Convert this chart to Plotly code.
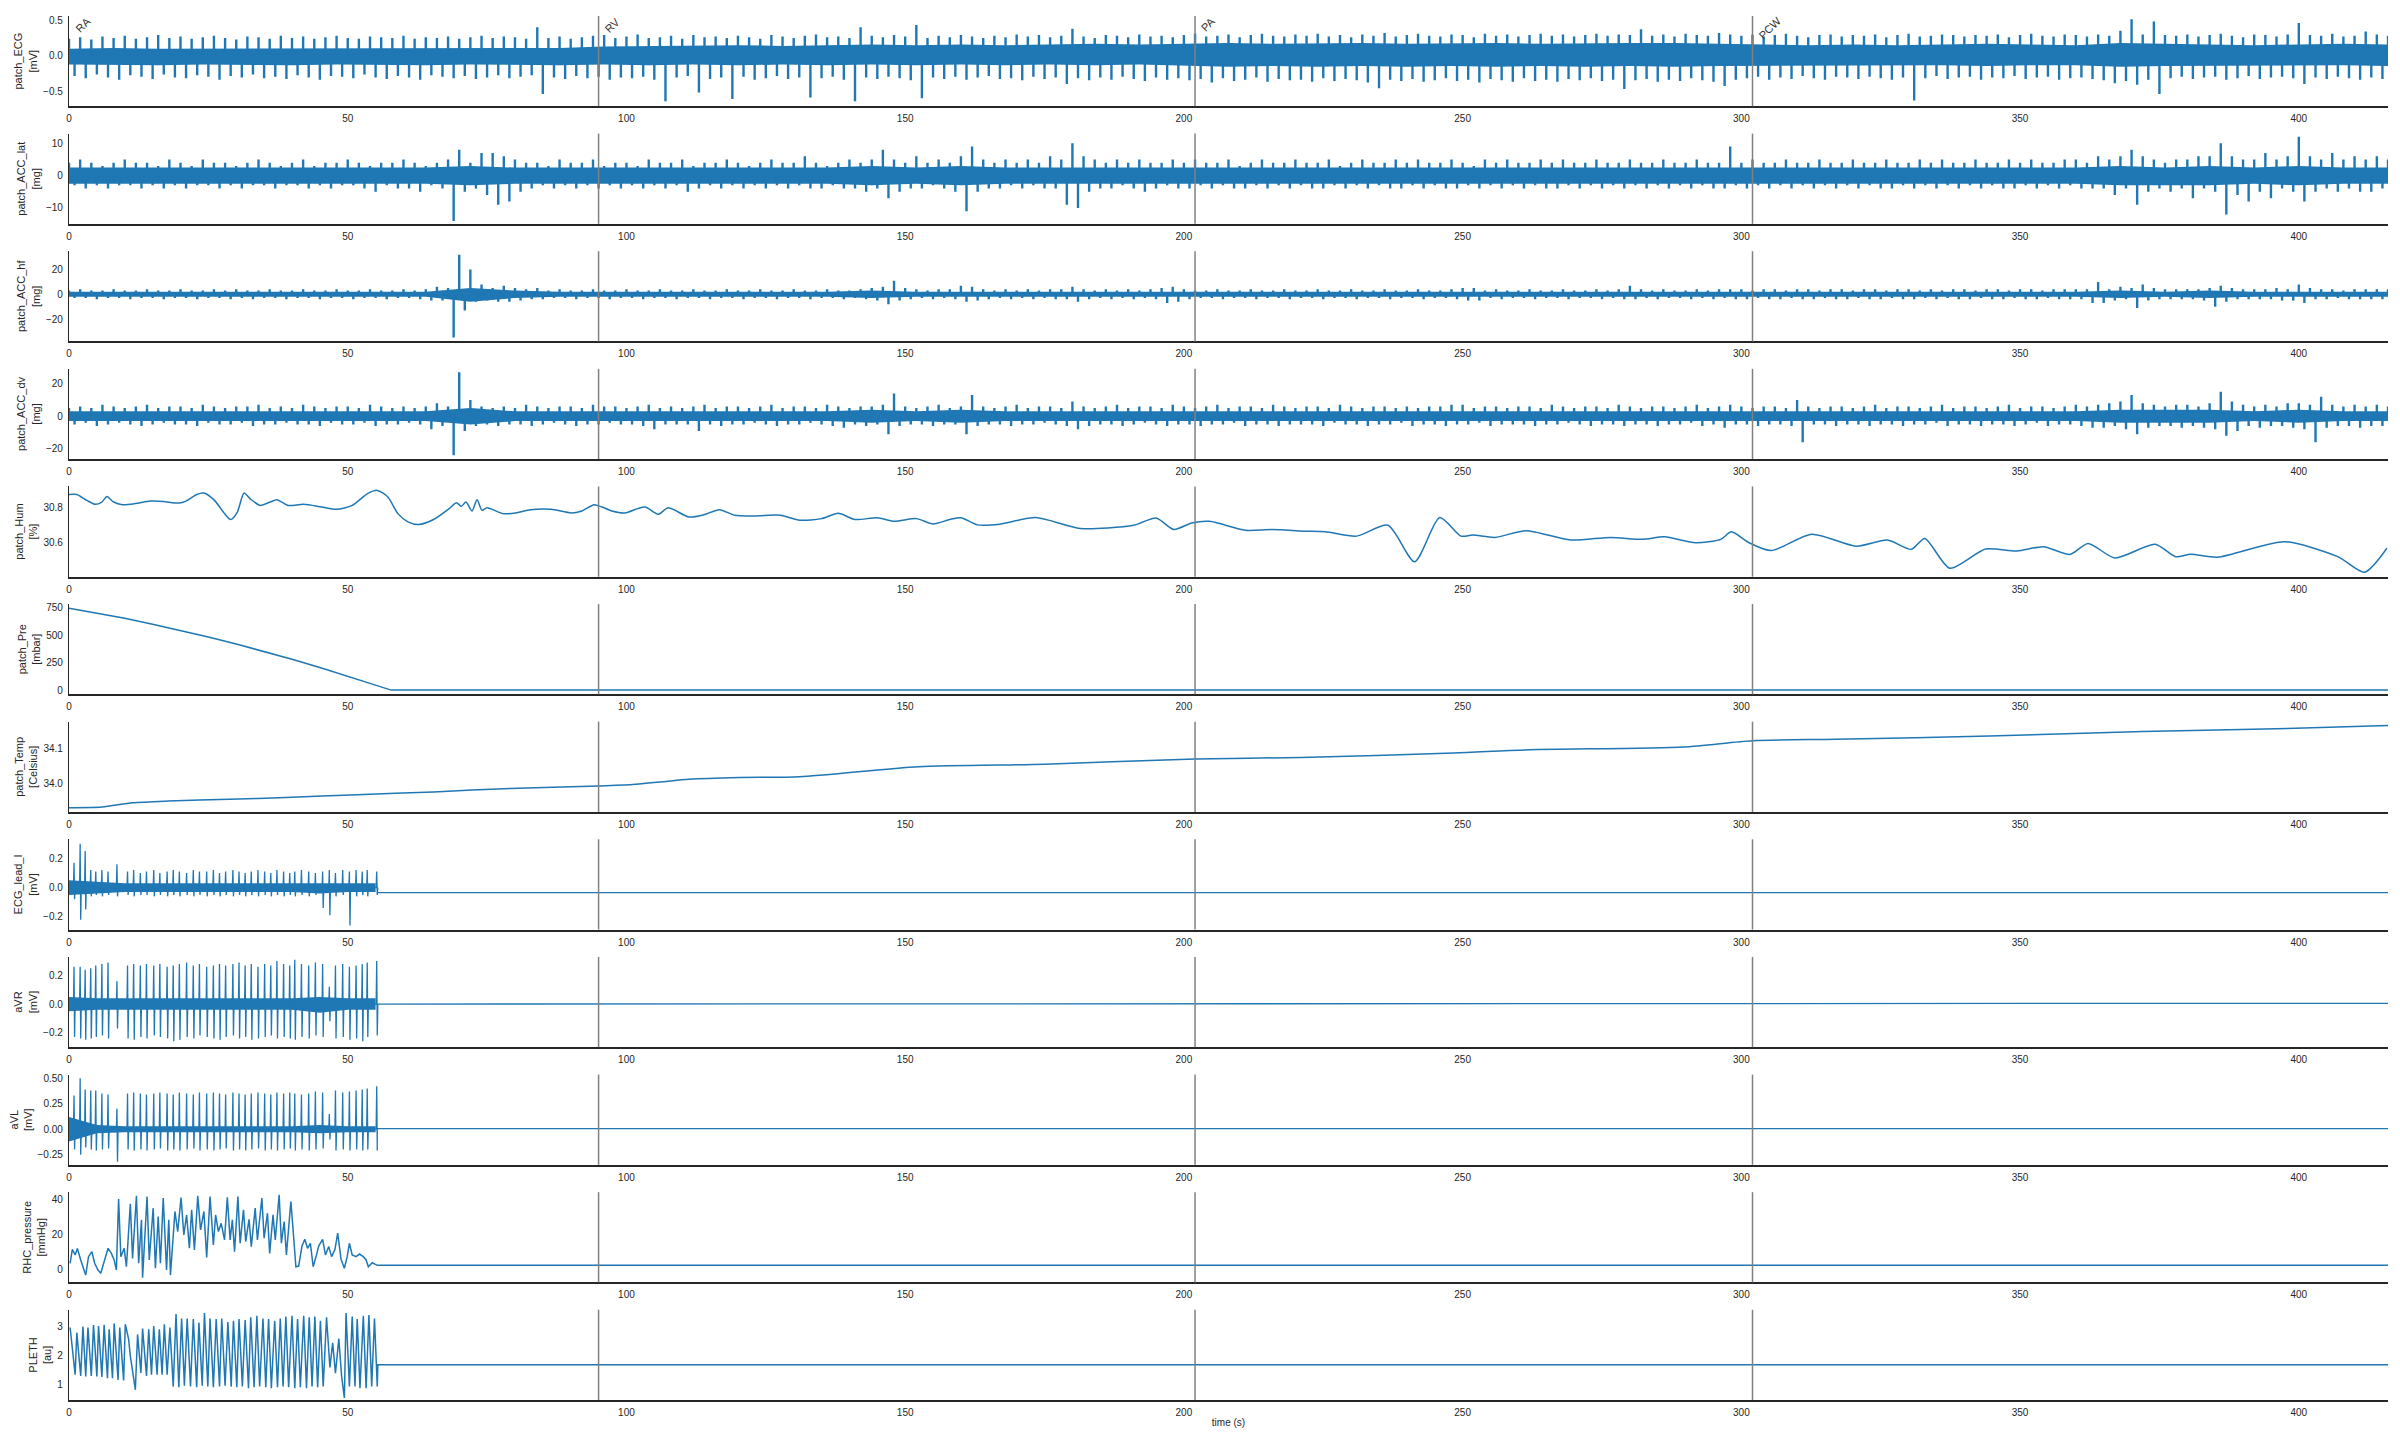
import numpy as np
import plotly.graph_objects as go
from plotly.subplots import make_subplots

# ---------------- time grids ----------------
T_HI = np.arange(0, 417, 2)      # envelope maxima read every 2 s (even seconds)
T_LO = np.arange(1, 416, 2)      # envelope minima read every 2 s (odd seconds)
T_CORE = np.arange(0, 417, 8)    # dense core band read every 8 s
T_SHORT = np.arange(0, 56, 5)    # core band of the catheter-lab channels (0-55 s)
X_MAX = 416
T_STOP = 55.3                    # catheter-lab channels stop here

EVENT_T = [0, 95, 202, 302]
EVENT_LABEL = ["RA", "RV", "PA", "PCW"]

# ---------------- patch_ECG (x0.01 mV) ----------------
ECG_HI = [24,26,23,27,25,28,24,26,29,25, 27,24,26,28,25,23,27,26,24,28,
          25,27,24,26,28,25,24,27,26,25, 28,24,26,25,27,24,26,28,25,27,
          26,24,40,25,27,24,26,28,29,25, 27,30,25,26,28,24,29,26,27,25,
          28,26,24,29,27,25,28,30,26,27, 25,40,28,26,29,27,43,25,28,26,
          29,27,25,28,26,30,27,29,26,28, 38,27,25,29,28,26,30,27,28,26,
          29,31,27,28,30,26,29,31,28,27, 30,28,31,27,29,26,30,28,32,27,
          29,31,28,27,30,29,26,31,28,30, 27,29,31,28,30,27,29,31,28,30,
          29,37,28,30,27,31,29,28,32,30, 28,30,27,29,31,28,26,29,30,27,
          29,28,30,26,29,31,27,28,30,29, 27,29,28,30,26,29,31,28,27,30,
          29,27,30,28,35,51,30,48,29,28, 30,27,29,31,28,26,30,29,27,30,
          46,29,28,31,27,28,34,30,28]
ECG_LO = [-28,-31,-26,-30,-33,-27,-29,-32,-26,-30, -31,-27,-29,-33,-28,-30,-26,-31,-29,-32,
          -27,-30,-33,-28,-29,-31,-26,-30,-32,-28, -30,-33,-27,-29,-31,-28,-32,-30,-27,-31,
          -29,-27,-53,-30,-32,-28,-31,-29,-33,-30, -31,-29,-33,-63,-30,-28,-51,-32,-30,-60,
          -29,-33,-31,-28,-32,-30,-58,-31,-29,-33, -63,-30,-32,-29,-31,-34,-59,-30,-32,-29,
          -33,-30,-28,-32,-31,-34,-29,-32,-30,-39, -31,-34,-30,-33,-29,-32,-35,-30,-33,-31,
          -34,-32,-37,-31,-35,-33,-30,-36,-32,-34, -33,-36,-31,-35,-32,-34,-37,-45,-33,-35,
          -32,-36,-34,-31,-35,-33,-37,-32,-34,-36, -31,-35,-33,-36,-32,-34,-31,-35,-33,-46,
          -34,-32,-36,-33,-35,-31,-34,-36,-42,-33, -31,-29,-33,-30,-32,-28,-31,-33,-29,-30,
          -32,-29,-31,-33,-30,-62,-31,-28,-32,-30, -29,-33,-30,-31,-28,-32,-30,-29,-33,-31,
          -30,-32,-34,-38,-35,-40,-33,-53,-31,-29, -32,-30,-29,-33,-31,-28,-32,-30,-29,-31,
          -39,-30,-32,-29,-31,-33,-30,-32]
ECG_CORE_HI = [10,11,10,10,11,10,10,11,10,11,10,11,
               13,14,14,15,14,15,16,15,16,15,16,17,16,
               17,18,17,18,18,17,18,18,17,18,18,18,17,
               16,15,16,15,16,17,16,15,18,17,16,15,16,17,16]
ECG_CORE_LO = [-12,-12,-13,-12,-12,-13,-12,-12,-13,-12,-12,-13,
               -12,-13,-12,-13,-12,-13,-12,-13,-12,-13,-12,-13,-12,
               -14,-15,-14,-15,-14,-15,-14,-15,-14,-15,-14,-15,-14,
               -13,-13,-14,-13,-13,-14,-13,-13,-15,-14,-13,-14,-13,-13,-14]

# ---------------- patch_ACC_lat (mg) ----------------
LAT_HI = [4,5,4,3,4,5,4,4,3,5, 4,3,5,4,4,3,4,5,4,3, 4,5,3,4,4,5,4,3,4,4, 5,4,3,4,5,8,4,7,7,6,
          5,4,4,3,5,4,4,5,3,4, 4,3,5,4,4,5,3,4,4,5, 4,3,4,5,4,4,6,4,3,4, 5,4,5,8,5,4,6,4,5,4,
          6,9,5,4,5,4,5,4,6,5, 10,6,5,4,5,4,5,4,4,5, 4,5,4,4,5,3,4,5,4,4, 5,4,4,5,3,4,5,4,4,5,
          4,5,4,4,5,4,3,5,4,5, 4,4,5,4,5,4,4,5,4,4, 5,4,4,5,4,4,5,4,4,9, 4,5,4,4,5,4,4,5,4,4,
          5,4,4,5,4,4,5,4,5,4, 4,5,4,4,5,4,5,4,4,5, 5,4,6,5,6,8,6,5,4,5, 5,6,6,10,6,5,5,7,5,6,
          12,6,5,7,5,6,5,6,5]
LAT_LO = [-3,-4,-3,-4,-3,-3,-4,-3,-4,-3, -4,-3,-3,-4,-3,-4,-3,-3,-4,-3, -3,-4,-3,-4,-3,-3,-4,-5,-3,-4,
          -4,-5,-3,-4,-14,-5,-4,-6,-9,-8, -5,-4,-3,-4,-3,-4,-3,-4,-3,-4, -3,-4,-3,-4,-3,-5,-4,-3,-4,-3,
          -4,-3,-4,-3,-4,-3,-4,-4,-3,-4, -4,-5,-4,-7,-5,-4,-4,-3,-4,-5, -11,-5,-4,-4,-3,-4,-3,-4,-4,-9,
          -10,-5,-4,-4,-3,-4,-5,-4,-3,-4, -4,-3,-4,-3,-4,-4,-3,-4,-3,-4, -3,-4,-4,-3,-4,-3,-4,-3,-4,-4,
          -3,-4,-3,-4,-4,-3,-4,-3,-4,-3, -4,-3,-4,-4,-3,-4,-3,-4,-3,-4, -3,-4,-3,-4,-3,-4,-3,-4,-4,-3,
          -4,-3,-4,-3,-4,-3,-4,-3,-4,-3, -4,-3,-4,-4,-3,-4,-3,-4,-3,-4, -3,-4,-3,-4,-4,-3,-4,-3,-4,-3,
          -4,-4,-4,-6,-4,-9,-5,-4,-5,-4, -7,-4,-5,-12,-6,-8,-5,-7,-4,-5, -8,-5,-4,-5,-4,-5,-5,-4]
LAT_CORE_HI = [2.5,2.5,2.5,2.5,2.5,2.5,2.5,2.5,2.5,3,2.5,2.5,2.5,2.5,2.5,2.5,2.5,2.5,3,2.5,3,2.5,2.5,2.5,2.5,2.5,2.5,
               2.5,2.5,2.5,2.5,2.5,2.5,2.5,2.5,2.5,2.5,2.5,2.5,2.5,2.5,2.5,2.5,2.5,2.5,2.5,3,2.5,3,2.5,3,2.5,2.5]
LAT_CORE_LO = [-2.5,-2.5,-2.5,-2.5,-2.5,-2.5,-2.5,-2.5,-2.5,-3,-2.5,-2.5,-2.5,-2.5,-2.5,-2.5,-2.5,-2.5,-3,-2.5,-3,-2.5,-2.5,-2.5,-2.5,-2.5,-2.5,
               -2.5,-2.5,-2.5,-2.5,-2.5,-2.5,-2.5,-2.5,-2.5,-2.5,-2.5,-2.5,-2.5,-2.5,-2.5,-2.5,-2.5,-2.5,-2.5,-3,-3,-3,-2.5,-3,-2.5,-2.5]

# ---------------- patch_ACC_hf (mg) ----------------
HF_HI = [3,4,3,3,4,3,3,4,3,3, 4,3,3,4,3,4,3,3,4,3, 3,4,3,3,4,3,3,4,3,3, 4,3,4,6,5,32,20,8,5,7,
         5,4,5,3,4,3,3,4,3,3, 4,3,3,4,3,3,4,3,3,4, 3,3,4,3,3,4,3,3,4,3, 3,4,5,6,11,5,4,3,4,4,
         7,6,4,3,4,3,4,3,4,4, 6,4,3,4,3,4,3,4,5,6, 4,3,3,4,3,3,4,3,3,4, 3,3,4,3,3,4,3,3,4,3,
         3,4,3,3,4,5,5,3,4,3, 3,4,3,3,4,3,3,4,3,4, 7,4,3,4,3,3,4,3,4,4, 4,3,4,4,3,4,4,3,4,4,
         3,4,4,3,4,4,3,4,3,4, 4,3,4,4,3,4,4,3,4,4, 4,4,10,4,6,5,8,5,4,4, 4,4,5,7,5,4,4,4,5,4,
         8,5,4,4,3,4,4,4,4]
HF_LO = [-3,-3,-4,-3,-3,-4,-3,-3,-4,-3, -3,-4,-3,-3,-4,-3,-4,-3,-3,-4, -3,-3,-4,-3,-3,-4,-3,-3,-4,-3,
         -3,-4,-5,-5,-35,-13,-6,-5,-6,-6, -5,-4,-4,-3,-3,-4,-3,-3,-4,-3, -3,-4,-3,-3,-4,-3,-3,-4,-3,-3,
         -4,-3,-3,-4,-3,-3,-4,-3,-3,-4, -3,-4,-5,-8,-5,-4,-3,-4,-3,-4, -6,-5,-4,-3,-4,-3,-4,-3,-4,-4,
         -6,-4,-3,-4,-3,-4,-3,-4,-7,-6, -4,-3,-3,-4,-3,-3,-4,-3,-3,-4, -3,-3,-4,-3,-3,-4,-3,-3,-4,-3,
         -3,-4,-3,-3,-4,-5,-5,-3,-4,-3, -3,-4,-3,-3,-4,-3,-3,-4,-3,-4, -4,-3,-4,-3,-3,-4,-3,-4,-3,-4,
         -4,-3,-4,-4,-3,-4,-4,-3,-4,-4, -3,-4,-4,-3,-4,-4,-3,-4,-3,-4, -4,-3,-4,-4,-3,-4,-4,-3,-4,-4,
         -4,-7,-7,-5,-4,-11,-5,-4,-4,-4, -4,-5,-10,-6,-4,-4,-4,-4,-5,-5, -7,-4,-4,-3,-4,-4,-4,-4]
HF_CORE_HI = [2,2,2,2,2,2,2,2,2,5,3,2,2,2,2,2,2,2,3,2,2,2,2,2,2,2,2,
              2,2,2,2,2,2,2,2,2,2,2,2,2,2,2,2,2,2,2,3,2,3,2,2,2,2]
HF_CORE_LO = [-2,-2,-2,-2,-2,-2,-2,-2,-2,-6,-3,-2,-2,-2,-2,-2,-2,-2,-3,-2,-2,-2,-2,-2,-2,-2,-2,
              -2,-2,-2,-2,-2,-2,-2,-2,-2,-2,-2,-2,-2,-2,-2,-2,-2,-2,-2,-3,-2,-3,-2,-2,-2,-2]

# ---------------- patch_ACC_dv (mg) ----------------
DV_HI = [5,6,5,7,6,5,6,7,5,6, 6,5,7,6,5,6,6,7,5,6, 5,7,6,5,6,6,5,7,6,5, 6,5,6,8,6,27,10,6,5,6,
         5,7,6,5,6,6,5,7,6,6, 5,6,7,5,6,5,6,7,5,6, 6,5,6,7,5,6,6,5,7,6, 5,6,6,7,14,6,5,6,7,5,
         6,13,6,5,6,7,5,6,6,5, 9,6,5,6,7,5,6,6,5,7, 6,5,6,7,5,6,6,5,7,6, 5,6,6,5,7,6,5,6,6,5,
         6,5,6,6,7,7,5,6,6,5, 6,6,5,7,6,5,6,6,5,7, 6,5,6,6,5,6,7,5,6,7, 6,5,6,6,5,10,6,5,6,6,
         5,6,7,5,6,6,5,6,7,5, 6,6,5,6,7,5,6,6,5,6, 7,6,7,8,9,13,8,7,6,7, 7,6,8,15,9,7,6,7,6,8,
         8,7,12,7,6,7,6,7,6]
DV_LO = [-5,-4,-6,-5,-4,-5,-6,-5,-4,-5, -5,-6,-4,-5,-5,-4,-6,-5,-5,-4, -5,-5,-6,-4,-5,-5,-4,-6,-5,-5,
         -4,-5,-8,-6,-24,-9,-6,-5,-6,-5, -5,-6,-5,-4,-5,-6,-5,-5,-4,-5, -5,-6,-8,-5,-5,-5,-9,-5,-6,-5,
         -5,-4,-5,-6,-5,-5,-4,-5,-6,-7, -5,-6,-5,-11,-6,-5,-5,-6,-5,-5, -11,-6,-5,-5,-6,-5,-5,-4,-5,-6,
         -8,-6,-5,-5,-6,-5,-4,-5,-6,-5, -5,-6,-5,-5,-4,-6,-5,-5,-6,-5, -5,-5,-6,-4,-5,-5,-6,-5,-5,-4,
         -6,-5,-5,-6,-5,-5,-4,-6,-5,-5, -5,-6,-5,-5,-4,-5,-6,-5,-5,-6, -5,-5,-6,-5,-5,-4,-6,-5,-7,-5,
         -5,-6,-5,-5,-6,-16,-5,-5,-6,-5, -5,-6,-5,-5,-6,-5,-5,-4,-6,-5, -5,-6,-5,-5,-6,-5,-4,-6,-5,-5,
         -6,-7,-7,-6,-8,-11,-7,-6,-6,-7, -6,-7,-8,-12,-9,-6,-7,-6,-6,-7, -8,-16,-7,-6,-6,-7,-6,-6]
DV_CORE_HI = [3,3,3,3,3,3,3,3,3,5,3,3,3,3,3,3,3,3,4,3,4,3,3,3,3,3,3,
              3,3,3,3,3,3,3,3,3,3,3,3,3,3,3,3,3,3,3,4,4,4,3,4,3,3]
DV_CORE_LO = [-3,-3,-3,-3,-3,-3,-3,-3,-3,-5,-3,-3,-3,-3,-3,-3,-3,-3,-4,-3,-4,-3,-3,-3,-3,-3,-3,
              -3,-3,-3,-3,-3,-3,-3,-3,-3,-3,-3,-3,-3,-3,-3,-3,-3,-3,-3,-4,-4,-4,-3,-4,-3,-3]

# ---------------- patch_Hum (%) ----------------
HUM_T = [0,1.4,3.2,4.7,5.9,6.8,8.0,9.6,11.9,14.6, 16.9,19.7,21.0,22.9,24.2,26.1,27.9,29.0,30.2,31.4,
         32.5,34.3,36.1,37.3,39.3,42.1,45.3,48.0,50.8,53.5, 55.3,57.2,59.0,60.8,62.7,65.4,68.2,69.5,70.4,71.2,
         72.3,73.2,74.1,75.0,77.8,80.1,82.8,86.5,90.1,92.0, 94.2,95.6,97.4,99.7,102.0,103.4,105.7,107.5,111.2,113.9,
         116.7,119.4,123.1,127.6,131.1, 135,138,141,145,148,152,155,158,160,163,
         167.0,173.4,181.4,191.0,195.0,198.2,201.4,204.6,211.0,215.8, 221.4,225.4,231.0,236.6,241.4,245.9,249.7,251.8,255.8,261.4,
         269.4,276.6,282.2,286.2,291.8,296.3,298.2,301.4,305.4,312.6, 320.6,326.2,330.5,332.9,337.4,343.8,349.4,354.2,359.0,362.2,
         367.0,374.2,377.9,380.6,385.4,397.4,407.0,411.8,415.8]
HUM_V = [30.870,30.870,30.837,30.815,30.828,30.859,30.828,30.813,30.819,30.833, 30.831,30.822,30.833,30.870,30.878,30.837,30.763,30.730,30.772,30.878,
         30.846,30.809,30.828,30.841,30.809,30.815,30.800,30.787,30.809,30.874, 30.893,30.856,30.763,30.717,30.702,30.730,30.791,30.824,30.804,30.828,
         30.778,30.841,30.781,30.796,30.763,30.767,30.785,30.787,30.767,30.778, 30.813,30.800,30.778,30.767,30.791,30.800,30.759,30.796,30.744,30.757,
         30.785,30.754,30.750,30.754,30.726, 30.735,30.765,30.730,30.740,30.720,30.735,30.705,30.730,30.740,30.700,
         30.704,30.741,30.680,30.698,30.739,30.674,30.711,30.720,30.670,30.674, 30.665,30.661,30.637,30.698,30.494,30.741,30.637,30.643,30.630,30.667,
         30.615,30.630,30.619,30.633,30.600,30.619,30.661,30.600,30.556,30.648, 30.581,30.615,30.563,30.624,30.457,30.565,30.554,30.578,30.535,30.596,
         30.515,30.591,30.522,30.535,30.519,30.606,30.522,30.435,30.569]

# ---------------- patch_Pre (mbar) ----------------
PRE_T = [0, 5, 10, 15, 20, 25, 30, 35, 40, 45, 50, 55, 57.8, 416]
PRE_V = [748, 704, 655, 602, 545, 485, 421, 354, 283, 208, 129, 47, 1, 1]

# ---------------- patch_Temp (Celsius) ----------------
TEMP_T = [0,5.9,11.4,17.8,28.8,38.9,51.7,65.4,79.1,95,101.1,106.6,111.2,120.3,131.1,
          152.4,175,202,221,248.4,262,289.6,302,317,344.5,372,399.4,416]
TEMP_V = [33.931,33.933,33.945,33.950,33.955,33.960,33.968,33.976,33.986,33.993,33.997,34.005,34.012,34.017,34.019,
          34.048,34.055,34.070,34.074,34.087,34.096,34.104,34.122,34.126,34.135,34.148,34.157,34.165]

# ---------------- catheter-lab ECG leads (x0.01 mV) ----------------
BEAT_T = [0.9,2.0,2.9,3.9,4.8,5.9,7.0,8.6,10.5,11.6, 12.8,13.9,15.2,16.3,17.6,18.7,19.8,21.1,22.3,23.4,
          24.7,25.9,27.0,28.1,29.4,30.5,31.6,32.7,33.9,35.1, 36.2,37.3,38.5,39.6,40.5,41.7,43.0,44.2,45.5,46.7,
          47.8,49.1,50.3,51.5,52.6,53.5,55.2]
LEADI_UP = [17,30,25,12,11,12,11,16,11,12, 10,11,12,10,11,12,11,10,12,11, 11,12,10,11,12,11,10,11,12,11,
            10,12,11,10,11,12,11,10,11,12, 10,12,11,12,11,12,11]
LEADI_DN = [-8,-22,-15,-6,-5,-6,-5,-6,-5,-6, -5,-5,-6,-5,-6,-5,-6,-5,-6,-5, -6,-5,-6,-5,-6,-5,-6,-5,-6,-5,
            -6,-5,-6,-5,-6,-5,-6,-5,-14,-19, -6,-5,-26,-6,-5,-6,-5]
AVR_UP = [26,26,24,25,27,28,29,16,27,28, 27,28,27,28,26,27,28,29,27,28, 26,27,28,27,28,29,27,28,26,28,
          27,30,28,27,31,28,27,29,28,12, 27,28,26,27,28,29,30]
AVR_DN = [-23,-24,-25,-24,-23,-22,-24,-17,-24,-25, -23,-24,-22,-23,-24,-26,-25,-23,-24,-22, -23,-24,-25,-23,-22,-24,-23,-25,-24,-23,
          -22,-24,-23,-24,-25,-23,-24,-22,-23,-12, -24,-23,-25,-24,-26,-23,-22]
AVL_UP = [33,50,39,38,38,35,34,20,35,36, 35,34,35,36,35,34,36,35,34,36, 35,36,35,34,36,35,34,35,36,35,
          34,36,35,36,35,34,35,37,36,15, 38,36,37,38,39,40,42]
AVL_DN = [-20,-25,-18,-20,-21,-20,-19,-32,-20,-21, -20,-21,-20,-19,-21,-20,-21,-20,-19,-21, -20,-21,-20,-19,-21,-20,-21,-20,-19,-21,
          -20,-21,-20,-19,-21,-20,-21,-20,-19,-10, -21,-20,-21,-20,-21,-20,-21]
LEADI_CORE_HI = [5,4,3,3,3,3,3,3,3,3,3,3]
LEADI_CORE_LO = [-5,-4,-3,-3,-3,-3,-3,-3,-3,-4,-3,-3]
AVR_CORE_HI = [5,4,4,4,4,4,4,4,4,5,4,4]
AVR_CORE_LO = [-5,-4,-4,-4,-4,-4,-4,-4,-4,-6,-4,-4]
AVL_CORE_HI = [12,4,3,3,3,3,3,3,3,4,3,3]
AVL_CORE_LO = [-12,-4,-3,-3,-3,-3,-3,-3,-3,-4,-3,-3]
FLAT_LEADI, FLAT_AVR, FLAT_AVL = -3.4, 0.5, 0.5

# ---------------- RHC_pressure (mmHg) ----------------
RHC_T = [0.2,0.6,1.1,1.5,2.1,2.5,3.0,3.5,4.1,4.6, 5.2,5.7,6.4,7.0,7.6,8.1,8.5,8.9,9.3,9.9,
         10.3,11.0,11.4,12.1,12.5,13.0,13.2,14.0,14.4,15.1, 15.5,16.0,16.4,16.9,17.5,17.9,18.2,19.0,19.5,20.1,
         20.6,21.1,21.6,22.0,22.5,23.1,23.6,24.2,24.7,25.3, 25.9,26.3,26.8,27.3,27.9,28.4,28.9,29.3,29.7,30.3,
         30.7,31.3,31.7,32.3,32.7,33.4,33.8,34.6,35.0,35.6, 36.0,36.6,37.0,37.7,38.1,38.6,39.0,39.8,40.2,40.7,
         41.2,41.8,42.3,42.8,43.3,43.8,44.4,44.8,45.5,46.0, 46.6,47.1,47.7,48.2,48.8,49.4,49.9,50.3,50.8,51.5,
         52.1,52.8,53.3,53.7,54.4,55.2,55.3,416]
RHC_V = [3.5,11.5,8.3,12.0,5.4,1.5,-3.3,7.3,10.2,3.5, -0.4,-2.3,6.3,12.1,9.2,5.4,-0.4,40.4,7.3,12.1,
         1.5,37.7,6.3,42.3,3.5,28.5,-4.8,41.9,5.4,35.2, 0.6,30.4,3.5,41.0,-0.4,28.5,-3.3,33.3,21.7,41.3,
         19.8,31.3,12.1,34.2,11.2,42.3,22.7,33.3,6.9,41.9, 14.0,31.3,21.7,26.5,16.9,41.5,16.9,28.5,10.2,41.9,
         15.0,34.2,16.0,28.8,13.1,35.2,16.9,41.0,17.9,32.3, 9.2,31.3,16.9,42.9,15.0,27.5,8.3,39.0,22.7,1.5,
         1.9,13.5,17.3,12.1,15.0,1.5,8.3,13.5,17.3,8.3, 13.1,7.3,11.2,20.8,5.8,0.6,7.3,15.0,8.3,7.3,
         8.8,7.3,5.4,1.5,3.8,2.5,2.3,2.3]

# ---------------- PLETH (au) ----------------
PL_T = [0.2,1.1,1.4,2.1,2.5,3.0,3.4,4.0,4.4,5.0, 5.3,5.9,6.3,6.9,7.2,7.8,8.1,8.8,9.1,9.8,
        10.1,10.7,11.0,11.9,12.3,12.9,13.2,13.9,14.3,14.8, 15.2,15.8,16.2,16.7,17.1,17.6,18.1,18.7,19.2,19.7,
        20.2,20.7,21.2,21.8,22.3,22.9,23.3,23.9,24.3,24.9, 25.3,25.9,26.4,27.0,27.4,28.0,28.5,29.1,29.5,30.1,
        30.5,31.1,31.6,32.2,32.6,33.2,33.7,34.2,34.8,35.3, 35.8,36.3,36.9,37.4,37.9,38.4,38.9,39.4,40.0,40.5,
        41.0,41.5,42.1,42.6,43.1,43.6,44.1,44.6,45.1,45.6, 46.2,46.8,47.3,47.8,48.4,48.9,49.4,49.7,50.3,50.8,
        51.3,51.7,52.2,52.8,53.3,53.8,54.3,54.8,55.3,55.4, 416]
PL_V = [2.98,1.35,2.80,1.31,3.01,1.29,2.98,1.31,3.06,1.29, 3.03,1.27,3.07,1.23,2.92,1.23,3.12,1.17,2.98,1.15,
        3.09,2.57,2.00,0.83,2.74,1.41,2.94,1.31,2.92,1.35, 3.03,1.35,2.92,1.35,3.09,1.35,2.98,0.94,3.44,0.92,
        3.29,0.97,3.29,0.94,3.27,0.92,3.15,0.97,3.48,0.94, 3.29,0.92,3.27,0.94,3.29,0.97,3.17,0.94,3.21,0.92,
        3.27,0.94,3.24,0.88,3.33,0.92,3.38,0.94,3.29,0.92, 3.27,0.88,3.21,0.92,3.29,0.94,3.36,0.92,3.38,0.88,
        3.27,0.92,3.38,0.88,3.33,0.94,3.36,0.92,3.21,0.94, 3.33,1.60,2.45,1.40,2.60,1.30,0.55,3.48,0.94,3.36,
        0.94,3.27,0.88,3.38,0.88,3.41,0.94,3.29,0.94,1.69, 1.69]

# ---------------- panel settings ----------------
TITLES = ["patch_ECG<br>[mV]", "patch_ACC_lat<br>[mg]", "patch_ACC_hf<br>[mg]", "patch_ACC_dv<br>[mg]",
          "patch_Hum<br>[%]", "patch_Pre<br>[mbar]", "patch_Temp<br>[Celsius]", "ECG_lead_I<br>[mV]",
          "aVR<br>[mV]", "aVL<br>[mV]", "RHC_pressure<br>[mmHg]", "PLETH<br>[au]"]
Y_RANGES = [[-0.70, 0.556], [-14.9, 13.0], [-38.1, 34.8], [-26.3, 29.1], [30.41, 30.915], [-37, 785],
            [33.919, 34.176], [-0.287, 0.330], [-0.301, 0.329], [-0.349, 0.536], [-7.5, 44.4], [0.477, 3.59]]
Y_TICKS = [[-0.5, 0.0, 0.5], [-10, 0, 10], [-20, 0, 20], [-20, 0, 20], [30.6, 30.8], [0, 250, 500, 750],
           [34.0, 34.1], [-0.2, 0.0, 0.2], [-0.2, 0.0, 0.2], [-0.25, 0.0, 0.25, 0.5], [0, 20, 40], [1, 2, 3]]
Y_TICKTEXT = [["−0.5", "0.0", "0.5"], ["−10", "0", "10"], ["−20", "0", "20"], ["−20", "0", "20"],
              ["30.6", "30.8"], ["0", "250", "500", "750"], ["34.0", "34.1"], ["−0.2", "0.0", "0.2"],
              ["−0.2", "0.0", "0.2"], ["−0.25", "0.00", "0.25", "0.50"], ["0", "20", "40"], ["1", "2", "3"]]
X_TICKS = [0, 50, 100, 150, 200, 250, 300, 350, 400]

BLUE = "#1f77b4"
DARK = "#262626"
FONT = "Liberation Sans, Arial, sans-serif"

fig = make_subplots(rows=12, cols=1, vertical_spacing=0.0198)


def add_line(row, x, y, width=1.5, shape="linear"):
    fig.add_trace(go.Scatter(x=list(x), y=list(y), mode="lines",
                             line=dict(color=BLUE, width=width, shape=shape, smoothing=0.7 if shape == "spline" else None),
                             hoverinfo="skip", showlegend=False), row=row, col=1)


def add_band(row, t, hi, lo, scale):
    hi = np.asarray(hi, float) * scale
    lo = np.asarray(lo, float) * scale
    t = np.asarray(t, float)
    fig.add_trace(go.Scatter(x=np.concatenate([t, t[::-1]]), y=np.concatenate([hi, lo[::-1]]),
                             mode="lines", fill="toself", fillcolor=BLUE, line=dict(width=0, color=BLUE),
                             hoverinfo="skip", showlegend=False), row=row, col=1)


def add_dense(row, hi, lo, core_hi, core_lo, scale):
    """Solid core band plus one vertical spike per envelope reading."""
    assert len(hi) == len(T_HI) and len(lo) == len(T_LO), (row, len(hi), len(lo))
    assert len(core_hi) == len(T_CORE) and len(core_lo) == len(T_CORE), (row, len(core_hi), len(core_lo))
    add_band(row, T_CORE, core_hi, core_lo, scale)
    t_all = np.concatenate([T_HI, T_LO])
    v_all = np.concatenate([np.asarray(hi, float), np.asarray(lo, float)]) * scale
    order = np.argsort(t_all, kind="stable")
    xs, ys = [], []
    for t, v in zip(t_all[order], v_all[order]):
        xs += [t, t, t]
        ys += [0.0, v, 0.0]
    add_line(row, xs, ys, width=2.4)


def add_beats(row, up, dn, core_hi, core_lo, flat, scale):
    assert len(up) == len(BEAT_T) and len(dn) == len(BEAT_T), (row, len(up), len(dn))
    add_band(row, T_SHORT, core_hi, core_lo, scale)
    xs, ys = [0.0], [0.0]
    for t, u, d in zip(BEAT_T, up, dn):
        xs += [t - 0.1, t, t + 0.1, t + 0.2]
        ys += [0.0, u * scale, d * scale, 0.0]
    xs += [T_STOP, T_STOP, X_MAX]
    ys += [0.0, flat * scale, flat * scale]
    add_line(row, xs, ys, width=1.3)


add_dense(1, ECG_HI, ECG_LO, ECG_CORE_HI, ECG_CORE_LO, 0.01)
add_dense(2, LAT_HI, LAT_LO, LAT_CORE_HI, LAT_CORE_LO, 1.0)
add_dense(3, HF_HI, HF_LO, HF_CORE_HI, HF_CORE_LO, 1.0)
add_dense(4, DV_HI, DV_LO, DV_CORE_HI, DV_CORE_LO, 1.0)
assert len(HUM_T) == len(HUM_V)
add_line(5, HUM_T, HUM_V, shape="spline")
add_line(6, PRE_T, PRE_V)
add_line(7, TEMP_T, TEMP_V, shape="spline")
add_beats(8, LEADI_UP, LEADI_DN, LEADI_CORE_HI, LEADI_CORE_LO, FLAT_LEADI, 0.01)
add_beats(9, AVR_UP, AVR_DN, AVR_CORE_HI, AVR_CORE_LO, FLAT_AVR, 0.01)
add_beats(10, AVL_UP, AVL_DN, AVL_CORE_HI, AVL_CORE_LO, FLAT_AVL, 0.01)
assert len(RHC_T) == len(RHC_V)
add_line(11, RHC_T, RHC_V)
assert len(PL_T) == len(PL_V)
add_line(12, PL_T, PL_V)

for i in range(12):
    r = i + 1
    fig.update_xaxes(row=r, col=1, range=[0, X_MAX], tickvals=X_TICKS, showgrid=False, zeroline=False,
                     showline=True, linecolor=DARK, linewidth=2, ticks="", tickfont=dict(size=10, color=DARK),
                     ticklabelstandoff=2, automargin=False)
    fig.update_yaxes(row=r, col=1, range=Y_RANGES[i], tickvals=Y_TICKS[i], ticktext=Y_TICKTEXT[i],
                     showgrid=False, zeroline=False, showline=True, linecolor=DARK, linewidth=1.3, ticks="",
                     tickfont=dict(size=10, color=DARK), ticklabelstandoff=3, automargin=False,
                     title=dict(text=TITLES[i], font=dict(size=11, color=DARK), standoff=3))
    yref = "y domain" if r == 1 else f"y{r} domain"
    xref = "x" if r == 1 else f"x{r}"
    for t in EVENT_T:
        if t <= 0:
            continue
        fig.add_shape(type="line", x0=t, x1=t, y0=0, y1=1, xref=xref, yref=yref,
                      line=dict(color="#808080", width=1.5), layer="above")

fig.update_xaxes(row=12, col=1, title=dict(text="time (s)", font=dict(size=10, color=DARK), standoff=2))

for t, lab in zip(EVENT_T, EVENT_LABEL):
    fig.add_annotation(x=t, y=1, xref="x", yref="y domain", text=lab, textangle=-45, showarrow=False,
                       xanchor="left", yanchor="top", xshift=1, yshift=4,
                       font=dict(size=11, color="#333333"))

# the page body adds an 8 px margin, so the figure is sized to fill the 2400x1440 window exactly
fig.update_layout(template="none", width=2384, height=1424, margin=dict(l=61, r=4, t=8, b=32),
                  plot_bgcolor="white", paper_bgcolor="white", showlegend=False,
                  font=dict(family=FONT, color=DARK))

fig.write_html("out.html")
